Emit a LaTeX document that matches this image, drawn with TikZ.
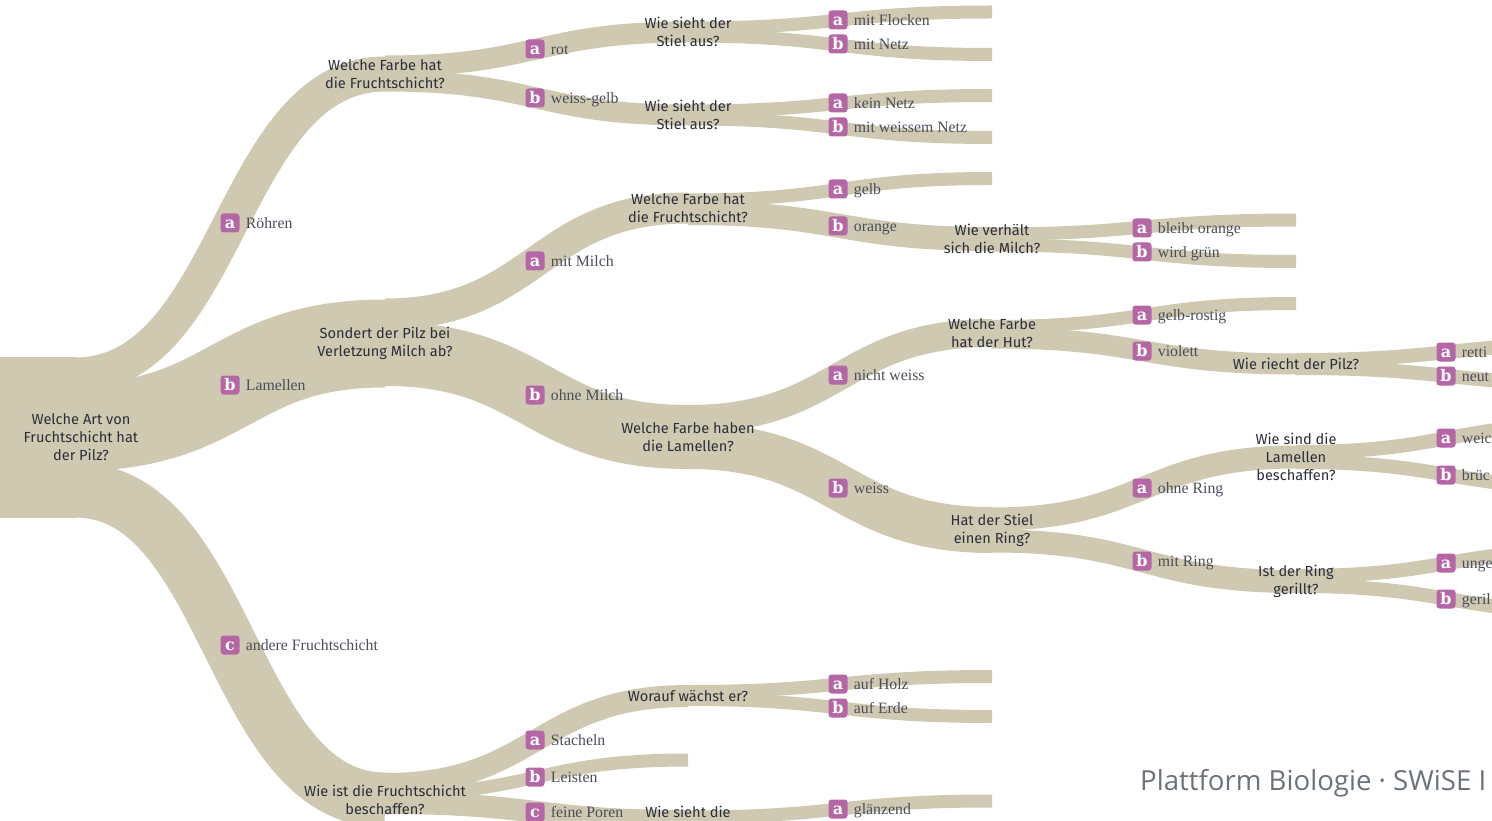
\documentclass[tikz,border=0pt]{standalone}
\usepackage{fontspec}
\usetikzlibrary{calc,backgrounds}
\newfontfamily\qfont{Fira Sans}
\newfontfamily\afont{Liberation Serif}
\newfontfamily\bfont{DejaVu Serif}
\newfontfamily\ffont{Open Sans}
\definecolor{ribc}{HTML}{CFC9B1}
\definecolor{badgec}{HTML}{B566A6}
\definecolor{qtext}{HTML}{2B2E3A}
\definecolor{atext}{HTML}{4A4D5A}
\definecolor{ftext}{HTML}{6B717D}
\tikzset{
 qnode/.style={align=center, inner sep=0pt, text=qtext, font=\qfont\fontsize{14.6}{18}\selectfont},
 badge/.style={fill=badgec, rounded corners=3pt, minimum size=19pt, inner sep=0pt, text=white, font=\bfont\bfseries\fontsize{16}{16}\selectfont, text height=10.5pt, text depth=0pt},
 lab/.style={anchor=west, inner sep=0pt, text=atext, font=\afont\fontsize{15.8}{17}\selectfont, text height=13.5pt, text depth=2pt},
 ribbon/.style={draw=ribc, line cap=butt, fill=none},
}
\newcommand{\rib}[3]{\path[ribbon, line width=#3pt] let \p1=(#1), \p2=(#2) in (\p1) .. controls ({0.5*\x1+0.5*\x2},\y1) and ({0.5*\x1+0.5*\x2},\y2) .. (\p2);}
\newcommand{\ans}[5]{\node[badge] (#1) at (#2,#3) {#4};
  \node[lab] (#1-t) at ([xshift=6pt]#1.east) {#5};}
\begin{document}
\begin{tikzpicture}[x=1pt,y=-1pt]
\useasboundingbox (0,0) rectangle (1492,821);
% ---------- question nodes ----------
\node[qnode] (root) at (81,437) {Welche Art von\\Fruchtschicht hat\\der Pilz?};
\node[qnode] (q1) at (385,74) {Welche Farbe hat\\die Fruchtschicht?};
\node[qnode] (q2) at (385,343.5) {Sondert der Pilz bei\\Verletzung Milch ab?};
\node[qnode] (q3) at (385,800) {Wie ist die Fruchtschicht\\beschaffen?};
\node[qnode] (q11) at (688,32) {Wie sieht der\\Stiel aus?};
\node[qnode] (q12) at (688,115) {Wie sieht der\\Stiel aus?};
\node[qnode] (q21) at (688,208) {Welche Farbe hat\\die Fruchtschicht?};
\node[qnode] (q22) at (688,437) {Welche Farbe haben\\die Lamellen?};
\node[qnode] (q31) at (688,696) {Worauf wächst er?};
\node[qnode] (q33t) at (688,812) {Wie sieht die};
\coordinate (q33) at (688,821);
\node[qnode] (q212) at (992,239) {Wie verhält\\sich die Milch?};
\node[qnode] (q221) at (992,333) {Welche Farbe\\hat der Hut?};
\node[qnode] (q222) at (992,530) {Hat der Stiel\\einen Ring?};
\node[qnode] (q2212) at (1296,364) {Wie riecht der Pilz?};
\node[qnode] (q2221) at (1296,457) {Wie sind die\\Lamellen\\beschaffen?};
\node[qnode] (q2222) at (1296,581.5) {Ist der Ring\\gerillt?};
% ---------- answers ----------
\ans{roe}{230}{223}{a}{Röhren}
\ans{lam}{230}{385}{b}{Lamellen}
\ans{and}{230}{645}{c}{andere Fruchtschicht}
\ans{rot}{535}{49}{a}{rot}
\ans{wg}{535}{98}{b}{weiss-gelb}
\ans{mm}{535}{261}{a}{mit Milch}
\ans{om}{535}{395}{b}{ohne Milch}
\ans{st}{535}{740}{a}{Stacheln}
\ans{le}{535}{777}{b}{Leisten}
\ans{fp}{535}{812}{c}{feine Poren}
\ans{mf}{838}{20}{a}{mit Flocken}
\ans{mn}{838}{44}{b}{mit Netz}
\ans{kn}{838}{103}{a}{kein Netz}
\ans{mwn}{838}{127}{b}{mit weissem Netz}
\ans{ge}{838}{189}{a}{gelb}
\ans{or}{838}{226}{b}{orange}
\ans{nw}{838}{375}{a}{nicht weiss}
\ans{we}{838}{488}{b}{weiss}
\ans{ah}{838}{684}{a}{auf Holz}
\ans{ae}{838}{708}{b}{auf Erde}
\ans{gl}{838}{809}{a}{glänzend}
\ans{bo}{1142}{228}{a}{bleibt orange}
\ans{wgr}{1142}{252}{b}{wird grün}
\ans{gr}{1142}{315}{a}{gelb-rostig}
\ans{vi}{1142}{351}{b}{violett}
\ans{oR}{1142}{488}{a}{ohne Ring}
\ans{mR}{1142}{561}{b}{mit Ring}
\ans{re}{1446}{352}{a}{retti}
\ans{ne}{1446}{376}{b}{neut}
\ans{wc}{1446}{438}{a}{weic}
\ans{br}{1446}{475}{b}{brüc}
\ans{ug}{1446}{563}{a}{unge}
\ans{gk}{1446}{599}{b}{geril}
% ---------- footer ----------
\node[anchor=base west, inner sep=0pt, text=ftext, font=\ffont\fontsize{27.6}{32}\selectfont] (foot) at (1140,790) {Plattform Biologie · SWiSE I};
% ---------- ribbon coordinates ----------
\coordinate (s-roe) at (75,375); \coordinate (s-lam) at (75,427); \coordinate (s-and) at (75,490);
\coordinate (s-rot) at (385,66); \coordinate (s-wg) at (385,81);
\coordinate (s-mm) at (385,314); \coordinate (s-om) at (385,354);
\coordinate (s-st) at (385,784); \coordinate (s-le) at (385,794); \coordinate (s-fp) at (385,803);
\coordinate (e-le) at (688,760);
\coordinate (s-mf) at (688,28); \coordinate (e-mf) at (992,12);
\coordinate (s-mn) at (688,36); \coordinate (e-mn) at (992,54.5);
\coordinate (s-kn) at (688,111); \coordinate (e-kn) at (992,95.5);
\coordinate (s-mwn) at (688,119); \coordinate (e-mwn) at (992,137.5);
\coordinate (s-ge) at (688,200); \coordinate (e-ge) at (992,178.5);
\coordinate (s-or) at (688,213);
\coordinate (s-nw) at (688,419); \coordinate (s-we) at (688,446);
\coordinate (s-ah) at (688,691.5); \coordinate (e-ah) at (992,676.5);
\coordinate (s-ae) at (688,699.5); \coordinate (e-ae) at (992,716.5);
\coordinate (s-gl) at (688,817); \coordinate (e-gl) at (992,801);
\coordinate (s-bo) at (992,234); \coordinate (e-bo) at (1296,220);
\coordinate (s-wgr) at (992,245); \coordinate (e-wgr) at (1296,261.5);
\coordinate (s-gr) at (992,326.5); \coordinate (e-gr) at (1296,303.5);
\coordinate (s-vi) at (992,338);
\coordinate (s-oR) at (992,519); \coordinate (s-mR) at (992,541);
\coordinate (s-re) at (1296,360); \coordinate (e-re) at (1600,344);
\coordinate (s-ne) at (1296,368); \coordinate (e-ne) at (1600,384);
\coordinate (s-wc) at (1296,452); \coordinate (e-wc) at (1600,424);
\coordinate (s-br) at (1296,462); \coordinate (e-br) at (1600,488);
\coordinate (s-ug) at (1296,576); \coordinate (e-ug) at (1600,550);
\coordinate (s-gk) at (1296,586); \coordinate (e-gk) at (1600,612);
% ---------- ribbons ----------
\begin{pgfonlayer}{background}
\fill[ribc] (0,357) rectangle (76,518);
\rib{s-roe}{q1}{35}
\rib{s-lam}{q2}{88}
\rib{s-and}{q3}{55}
\rib{s-rot}{q11}{21}
\rib{s-wg}{q12}{21}
\rib{s-mm}{q21}{31}
\rib{s-om}{q22}{64}
\rib{s-st}{q31}{22}
\rib{s-le}{e-le}{13}
\rib{s-fp}{q33}{22}
\rib{s-mf}{e-mf}{13}
\rib{s-mn}{e-mn}{13}
\rib{s-kn}{e-kn}{13}
\rib{s-mwn}{e-mwn}{13}
\rib{s-ge}{e-ge}{13}
\rib{s-or}{q212}{24}
\rib{s-nw}{q221}{28}
\rib{s-we}{q222}{46}
\rib{s-ah}{e-ah}{13}
\rib{s-ae}{e-ae}{13}
\rib{s-gl}{e-gl}{13}
\rib{s-bo}{e-bo}{13}
\rib{s-wgr}{e-wgr}{13}
\rib{s-gr}{e-gr}{13}
\rib{s-vi}{q2212}{21}
\rib{s-oR}{q2221}{23}
\rib{s-mR}{q2222}{23}
\rib{s-re}{e-re}{14}
\rib{s-ne}{e-ne}{14}
\rib{s-wc}{e-wc}{14}
\rib{s-br}{e-br}{14}
\rib{s-ug}{e-ug}{14}
\rib{s-gk}{e-gk}{14}
\end{pgfonlayer}
\end{tikzpicture}
\end{document}
